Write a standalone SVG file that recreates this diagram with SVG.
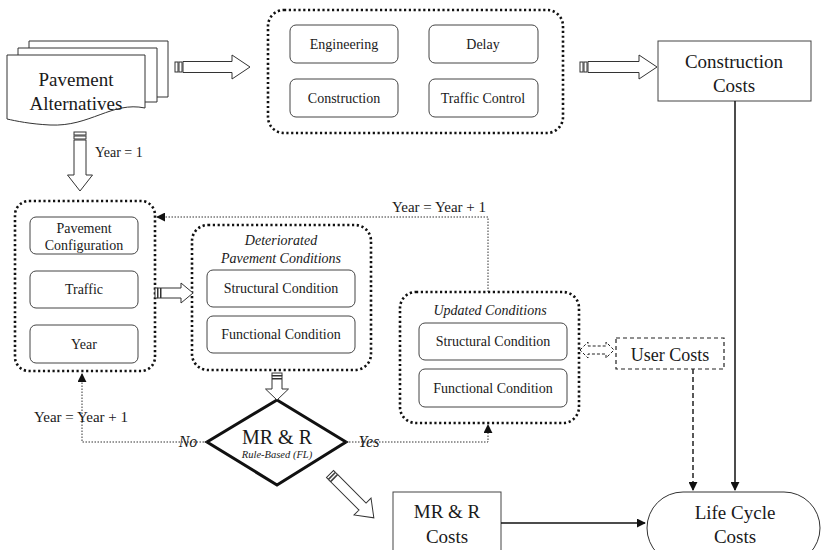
<svg xmlns="http://www.w3.org/2000/svg" width="822" height="550" viewBox="0 0 822 550" font-family="Liberation Serif, Tinos, DejaVu Serif, serif">
<defs>
<style>
text{font-family:'Liberation Serif',Tinos,'DejaVu Serif',serif;fill:#1a1a1a;text-anchor:middle}
.grp{fill:none;stroke:#111;stroke-width:2.6;stroke-dasharray:2.2 2.6}
.inner{fill:#fff;stroke:#444;stroke-width:1}
.blk{fill:#fff;stroke:#333;stroke-width:1}
.dot{fill:none;stroke:#333;stroke-width:1;stroke-dasharray:1.5 1.5}
.sol{fill:none;stroke:#111;stroke-width:1.5}
.dash{fill:none;stroke:#222;stroke-width:1.5;stroke-dasharray:5 3}
.t14{font-size:14px}
.t19{font-size:19px}
.it{font-style:italic}
.st{text-anchor:start}
</style>
<marker id="ah" viewBox="0 0 10 10" refX="9" refY="5" markerWidth="9" markerHeight="9" markerUnits="userSpaceOnUse" orient="auto">
<path d="M0,0 L10,5 L0,10 Z" fill="#111"/>
</marker>
</defs>
<rect width="822" height="550" fill="#fff"/>

<g id="pavement-alternatives">
<path d="M29,41 H168 V97 H29 Z" fill="#fff" stroke="#333" stroke-width="1"/>
<path d="M18,48 H157 V102 H18 Z" fill="#fff" stroke="#333" stroke-width="1"/>
<path d="M7,55 H145 V108 C112,101 90,127 50,125 C30,124 16,121 7,119 Z" fill="#fff" stroke="#333" stroke-width="1"/>
<text class="t19" x="76" y="86">Pavement</text>
<text class="t19" x="76" y="110">Alternatives</text>
</g>

<g id="construction-group">
<rect class="grp" x="268" y="10" width="295" height="123" rx="16"/>
<g id="engineering"><rect class="inner" x="290" y="25" width="108" height="38" rx="6"/><text class="t14" x="344" y="49">Engineering</text></g>
<g id="delay"><rect class="inner" x="429" y="25" width="109" height="38" rx="6"/><text class="t14" x="483" y="49">Delay</text></g>
<g id="construction"><rect class="inner" x="290" y="79" width="108" height="38" rx="6"/><text class="t14" x="344" y="103">Construction</text></g>
<g id="traffic-control"><rect class="inner" x="429" y="79" width="109" height="38" rx="6"/><text class="t14" x="483" y="103">Traffic Control</text></g>
</g>

<g id="construction-costs">
<rect x="658" y="41" width="153" height="60" fill="#fff" stroke="#444" stroke-width="1"/>
<text class="t19" x="734" y="68">Construction</text>
<text class="t19" x="734" y="92">Costs</text>
</g>

<g id="inputs-group">
<rect class="grp" x="15" y="201" width="140" height="170" rx="14"/>
<g id="pavement-configuration"><rect class="inner" x="30" y="217" width="108" height="37" rx="6"/><text class="t14" x="84" y="233">Pavement</text><text class="t14" x="84" y="250">Configuration</text></g>
<g id="traffic"><rect class="inner" x="30" y="271" width="108" height="37" rx="6"/><text class="t14" x="84" y="294">Traffic</text></g>
<g id="year"><rect class="inner" x="30" y="325" width="108" height="38" rx="6"/><text class="t14" x="84" y="349">Year</text></g>
</g>

<g id="deteriorated-group">
<rect class="grp" x="192" y="225" width="179" height="145" rx="16"/>
<text class="t14 it" x="281" y="245">Deteriorated</text>
<text class="t14 it" x="281" y="263">Pavement Conditions</text>
<g id="det-structural"><rect class="inner" x="207" y="270" width="148" height="37" rx="6"/><text class="t14" x="281" y="293">Structural Condition</text></g>
<g id="det-functional"><rect class="inner" x="207" y="316" width="148" height="37" rx="6"/><text class="t14" x="281" y="339">Functional Condition</text></g>
</g>

<g id="updated-group">
<rect class="grp" x="400" y="292" width="179" height="131" rx="16"/>
<text class="t14 it" x="490" y="315">Updated Conditions</text>
<g id="upd-structural"><rect class="inner" x="419" y="323" width="148" height="37" rx="6"/><text class="t14" x="493" y="346">Structural Condition</text></g>
<g id="upd-functional"><rect class="inner" x="419" y="369" width="148" height="38" rx="6"/><text class="t14" x="493" y="393">Functional Condition</text></g>
</g>

<g id="user-costs">
<rect x="616" y="338" width="108" height="31" fill="#fff" stroke="#222" stroke-width="1.2" stroke-dasharray="4 3"/>
<text x="670" y="361" font-size="18">User Costs</text>
</g>

<g id="mrr-decision">
<path d="M277,400 L346,442 L277,485 L207,442 Z" fill="#fff" stroke="#111" stroke-width="3"/>
<text x="277" y="444" font-size="20">MR &amp; R</text>
<text class="it" x="277" y="458" font-size="10.5">Rule-Based (FL)</text>
</g>

<g id="mrr-costs">
<rect x="393" y="492" width="108" height="70" fill="#fff" stroke="#444" stroke-width="1"/>
<text class="t19" x="447" y="518">MR &amp; R</text>
<text class="t19" x="447" y="543">Costs</text>
</g>

<g id="life-cycle-costs">
<rect x="647" y="492" width="173" height="72" rx="36" fill="#fff" stroke="#333" stroke-width="1"/>
<text class="t19" x="735" y="519">Life Cycle</text>
<text class="t19" x="735" y="543">Costs</text>
</g>

<g id="connectors">
<g transform="translate(175,67)">
<rect class="blk" x="0" y="-5" width="3" height="10"/><rect class="blk" x="4" y="-5" width="3" height="10"/>
<path class="blk" d="M8,-5.5 H57 V-12 L75,0 L57,12 V5.5 H8 Z"/>
</g>
<g transform="translate(580,67)">
<rect class="blk" x="0" y="-5" width="3" height="10"/><rect class="blk" x="4" y="-5" width="3" height="10"/>
<path class="blk" d="M8,-5.5 H59 V-12 L77,0 L59,12 V5.5 H8 Z"/>
</g>
<g transform="translate(155,293)">
<rect class="blk" x="0" y="-5" width="2.5" height="10"/><rect class="blk" x="3" y="-5" width="2.5" height="10"/>
<path class="blk" d="M6,-5 H26 V-10 L38,0 L26,10 V5 H6 Z"/>
</g>
<g transform="translate(80,132) rotate(90)">
<rect class="blk" x="0" y="-6" width="3" height="12"/><rect class="blk" x="4" y="-6" width="3" height="12"/>
<path class="blk" d="M8,-6 H43 V-12.5 L59,0 L43,12.5 V6 H8 Z"/>
</g>
<g transform="translate(277,373) rotate(90)">
<rect class="blk" x="0" y="-5" width="2.5" height="10"/><rect class="blk" x="3" y="-5" width="2.5" height="10"/>
<path class="blk" d="M6,-5 H16 V-11.5 L27,0 L16,11.5 V5 H6 Z"/>
</g>
<g transform="translate(330,474) rotate(45)">
<rect class="blk" x="0" y="-5" width="2.5" height="10"/><rect class="blk" x="3" y="-5" width="2.5" height="10"/>
<path class="blk" d="M6,-5 H46 V-12 L62,0 L46,12 V5 H6 Z"/>
</g>
<path d="M580,350 L588,342 V346 H606 V342 L614,350 L606,358 V354 H588 V358 Z" fill="#fff" stroke="#222" stroke-width="1" stroke-dasharray="3 2"/>
<path class="dot" d="M488,292 V217 H157" marker-end="url(#ah)"/>
<path class="dot" d="M207,442 H82 V374" marker-end="url(#ah)"/>
<path class="dot" d="M346,442 H488 V425" marker-end="url(#ah)"/>
<path class="sol" d="M735,101 V490" marker-end="url(#ah)"/>
<path class="dash" d="M693,369 V490" marker-end="url(#ah)"/>
<path class="sol" d="M501,523 H645" marker-end="url(#ah)"/>
<text class="st" x="95" y="157" font-size="14">Year = 1</text>
<text x="439" y="212" font-size="15">Year = Year + 1</text>
<text x="81" y="422" font-size="15">Year = Year + 1</text>
<text class="it" x="188" y="447" font-size="16">No</text>
<text class="it" x="369" y="447" font-size="16">Yes</text>
</g>
</svg>
